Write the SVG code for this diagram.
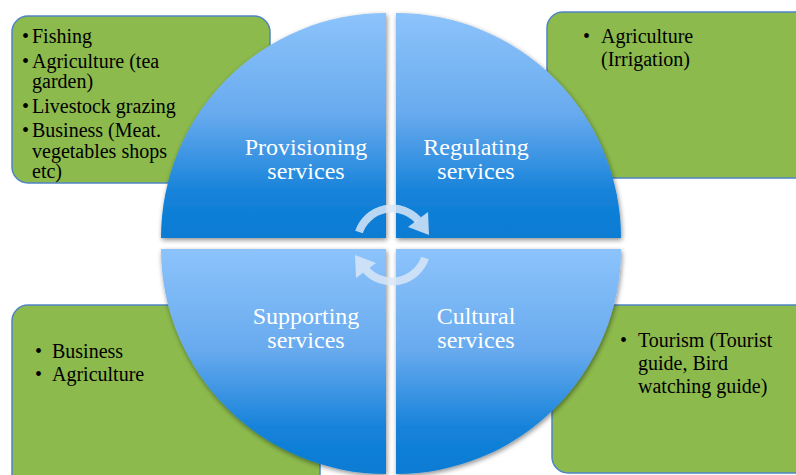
<svg xmlns="http://www.w3.org/2000/svg" width="796" height="475" viewBox="0 0 796 475">
<defs>
<linearGradient id="qg" x1="0" y1="0" x2="0" y2="1">
<stop offset="0" stop-color="#8cc3fb"/>
<stop offset="0.45" stop-color="#68aaee"/>
<stop offset="0.8" stop-color="#1582d9"/>
<stop offset="1" stop-color="#097bd3"/>
</linearGradient>
<filter id="sh" x="-10%" y="-10%" width="125%" height="125%">
<feGaussianBlur in="SourceAlpha" stdDeviation="2.5"/>
<feOffset dx="1" dy="2" result="b"/>
<feComponentTransfer><feFuncA type="linear" slope="0.45"/></feComponentTransfer>
<feMerge><feMergeNode/><feMergeNode in="SourceGraphic"/></feMerge>
</filter>
<style>
.box{fill:#8cba4c;stroke:#4f84c4;stroke-width:1.5}
.quad{fill:url(#qg);filter:url(#sh)}
text{font-family:'Liberation Serif','Times New Roman',serif}
.bt{font-size:20px;fill:#000}
.qt{font-size:24px;fill:#fff;text-anchor:middle}
.arr{fill:none;stroke:#d8e6f7;stroke-opacity:0.85;stroke-width:8}
.ah{fill:#d8e6f7;fill-opacity:0.85}
</style>
</defs>
<rect width="796" height="475" fill="#fff"/>
<g id="box-provisioning">
<rect class="box" x="12" y="16" width="258" height="167" rx="16"/>
<text class="bt" x="22" y="43">•</text><text class="bt" x="32" y="43">Fishing</text>
<text class="bt" x="22" y="68">•</text><text class="bt" x="32" y="68">Agriculture (tea</text>
<text class="bt" x="32" y="88">garden)</text>
<text class="bt" x="22" y="113">•</text><text class="bt" x="32" y="113">Livestock grazing</text>
<text class="bt" x="22" y="137">•</text><text class="bt" x="32" y="137">Business (Meat.</text>
<text class="bt" x="32" y="158">vegetables shops</text>
<text class="bt" x="32" y="178">etc)</text>
</g>
<g id="box-regulating">
<rect class="box" x="547" y="12" width="270" height="166" rx="16"/>
<text class="bt" x="583" y="43">•</text><text class="bt" x="601" y="43">Agriculture</text>
<text class="bt" x="601" y="66">(Irrigation)</text>
</g>
<g id="box-supporting">
<rect class="box" x="12" y="305" width="308" height="190" rx="16"/>
<text class="bt" x="35" y="358">•</text><text class="bt" x="52" y="358">Business</text>
<text class="bt" x="35" y="381">•</text><text class="bt" x="52" y="381">Agriculture</text>
</g>
<g id="box-cultural">
<rect class="box" x="552" y="305" width="265" height="168" rx="16"/>
<text class="bt" x="620" y="347">•</text><text class="bt" x="638" y="347">Tourism (Tourist</text>
<text class="bt" x="638" y="370">guide, Bird</text>
<text class="bt" x="638" y="393">watching guide)</text>
</g>
<g id="q-provisioning">
<path class="quad" d="M386 238 L161 238 A225 225 0 0 1 386 13 Z"/>
<text class="qt"><tspan x="306" y="155">Provisioning</tspan><tspan x="306" y="179">services</tspan></text>
</g>
<g id="q-regulating">
<path class="quad" d="M396 238 L396 13 A225 225 0 0 1 621 238 Z"/>
<text class="qt"><tspan x="476" y="155">Regulating</tspan><tspan x="476" y="179">services</tspan></text>
</g>
<g id="q-supporting">
<path class="quad" d="M386 249 L386 474 A225 225 0 0 1 161 249 Z"/>
<text class="qt"><tspan x="306" y="324">Supporting</tspan><tspan x="306" y="348">services</tspan></text>
</g>
<g id="q-cultural">
<path class="quad" d="M396 249 L621 249 A225 225 0 0 1 396 474 Z"/>
<text class="qt"><tspan x="476" y="324">Cultural</tspan><tspan x="476" y="348">services</tspan></text>
</g>
<g id="connectors">
<g>
<path class="arr" d="M359 232 A35 35 0 0 1 418 220"/>
<polygon class="ah" points="428,212 408,227 429,235"/>
</g>
<g transform="rotate(180 392 245)">
<path class="arr" d="M359 232 A35 35 0 0 1 418 220"/>
<polygon class="ah" points="428,212 408,227 429,235"/>
</g>
</g>
</svg>
